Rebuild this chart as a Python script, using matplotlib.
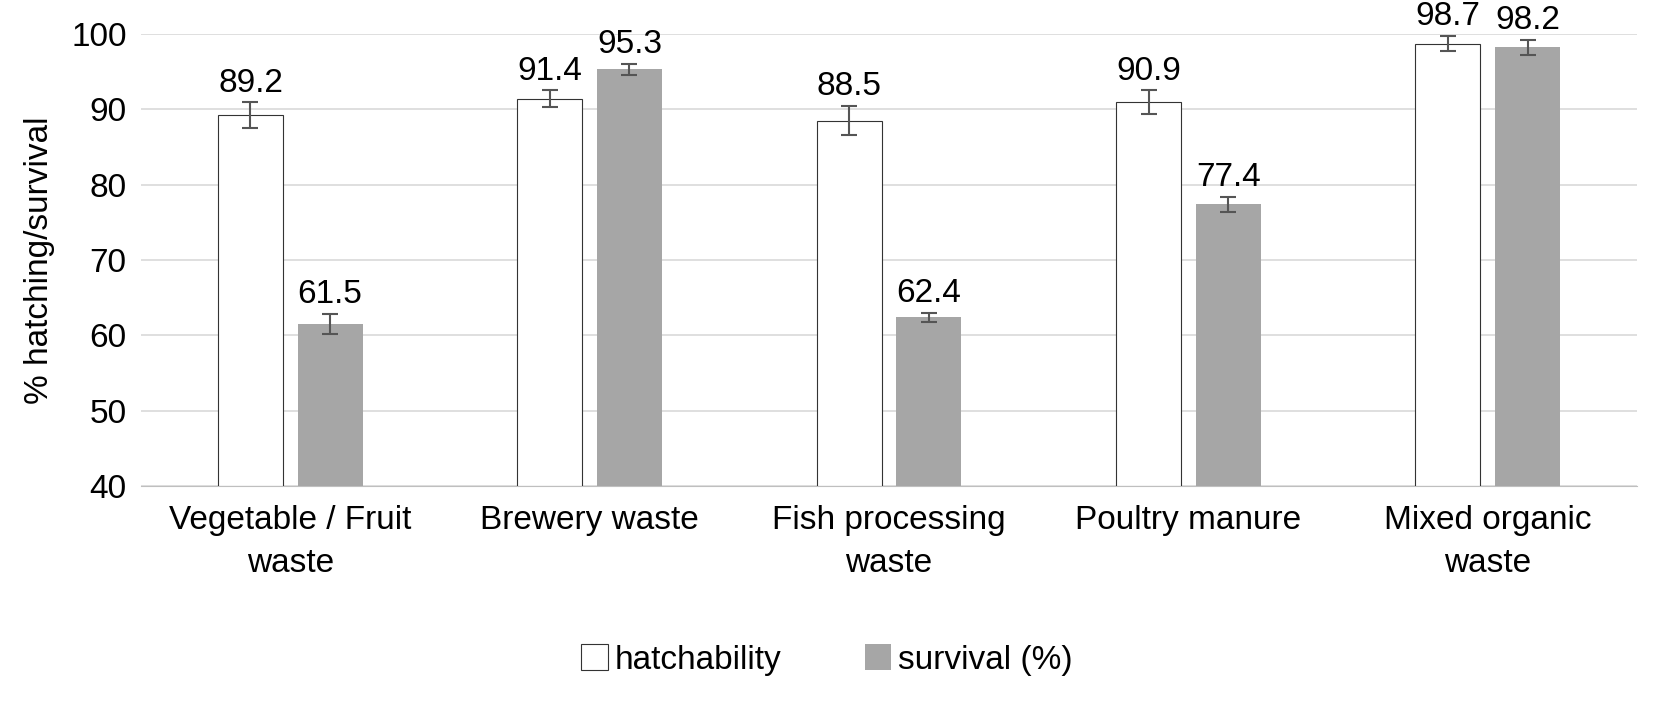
import matplotlib
matplotlib.use("Agg")
import matplotlib.pyplot as plt
import numpy as np

categories = ["Vegetable / Fruit\nwaste", "Brewery waste", "Fish processing\nwaste",
              "Poultry manure", "Mixed organic\nwaste"]
hatch = [89.2, 91.4, 88.5, 90.9, 98.7]
hatch_err = [1.7, 1.1, 1.9, 1.6, 1.0]
surv = [61.5, 95.3, 62.4, 77.4, 98.2]
surv_err = [1.3, 0.7, 0.6, 1.0, 1.0]

plt.rcParams["font.family"] = ["Liberation Sans Narrow", "Liberation Sans"]
fig = plt.figure(figsize=(16.54, 7.2), dpi=100)
ax = fig.add_axes([0.085, 0.325, 0.905, 0.628])

x = np.arange(len(categories))
w, off = 0.217, 0.133
ekw = dict(ecolor="#555555", capsize=6, elinewidth=1.5, capthick=1.5)
ax.bar(x - off, np.array(hatch) - 40, w, bottom=40, color="white", edgecolor="#333333",
       lw=0.8, yerr=hatch_err, error_kw=ekw, label="hatchability", zorder=3)
ax.bar(x + off, np.array(surv) - 40, w, bottom=40, color="#a6a6a6",
       yerr=surv_err, error_kw=ekw, label="survival (%)", zorder=3)
for xi, v, e in zip(x - off, hatch, hatch_err):
    ax.text(xi, v + e + 0.5, f"{v}", ha="center", va="bottom", fontsize=24)
for xi, v, e in zip(x + off, surv, surv_err):
    ax.text(xi, v + e + 0.5, f"{v}", ha="center", va="bottom", fontsize=24)

ax.set_ylim(40, 100)
ax.set_xlim(-0.5, 4.5)
ax.set_yticks(range(40, 101, 10))
ax.yaxis.grid(True, color="#d9d9d9", lw=1.2, zorder=0)
ax.set_xticks(x)
ax.set_xticklabels(categories, fontsize=24, va="top", linespacing=1.5)
ax.tick_params(axis="y", labelsize=24, length=0, pad=10)
ax.tick_params(axis="x", length=0, pad=14)
for s in ["top", "right", "left"]:
    ax.spines[s].set_visible(False)
ax.spines["bottom"].set_color("#bfbfbf")
ax.set_ylabel("% hatching/survival", fontsize=24, labelpad=12)
fig.legend(loc="lower center", bbox_to_anchor=(0.5, 0.02), ncol=2, frameon=False,
           fontsize=24, handlelength=0.8, handleheight=0.8, columnspacing=2.5,
           handletextpad=0.2)
fig.savefig("out.png")
